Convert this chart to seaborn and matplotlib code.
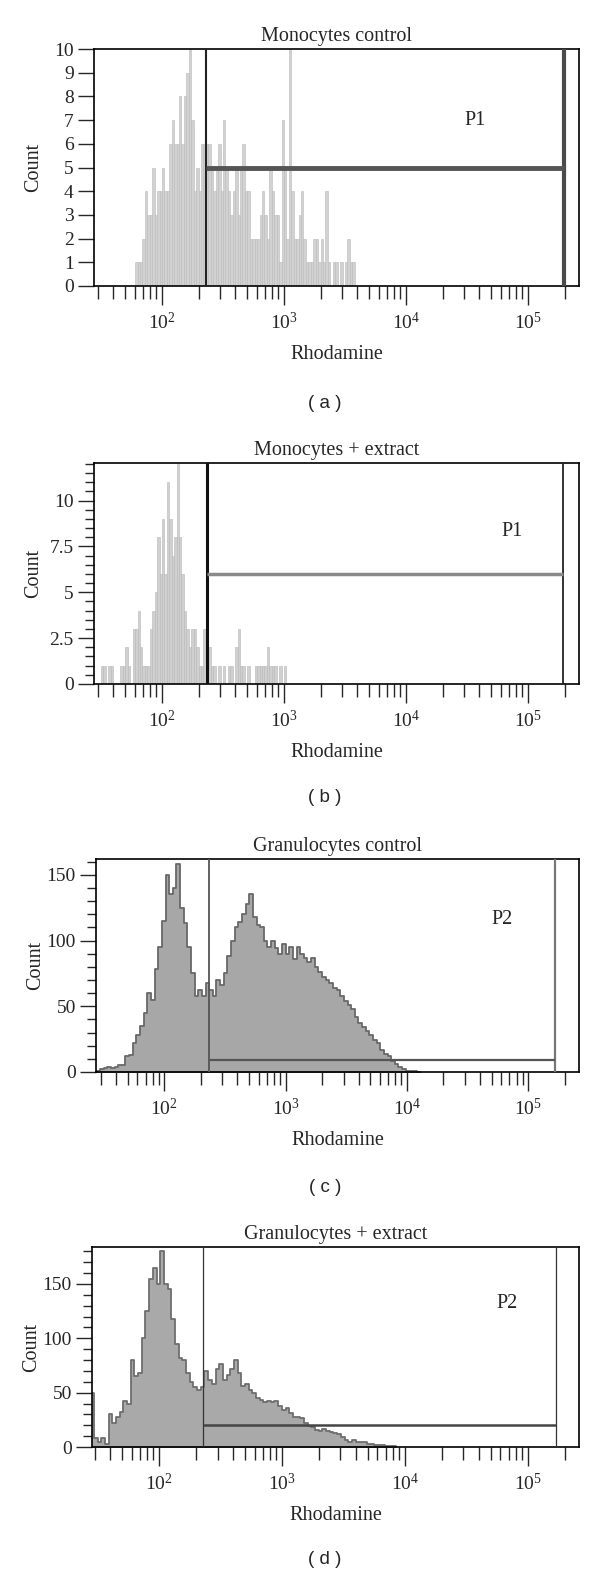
import numpy as np
import pandas as pd
import matplotlib
matplotlib.use("Agg")
import matplotlib.pyplot as plt
import matplotlib.ticker as mticker
import seaborn as sns

sns.set_style("ticks")
plt.rcParams["font.family"] = ["Liberation Serif", "DejaVu Serif"]
plt.rcParams["mathtext.fontset"] = "stix"

# ---- values ------------------------------------------------------------
titles = ["Monocytes control", "Monocytes + extract",
          "Granulocytes control", "Granulocytes + extract"]
letters = ["( a )", "( b )", "( c )", "( d )"]
gate_names = ["P1", "P1", "P2", "P2"]

# histogram bins are equal steps in log10(Rhodamine): (first edge, step)
bin_start = [1.78, 1.44, 1.44, 1.44]
bin_step = [0.02, 0.02, 0.03, 0.03]

mono_ctrl = [1, 1, 1, 2, 4, 3, 3, 5, 3, 4,
             4, 5, 4, 4, 6, 7, 6, 6, 8, 6,
             8, 9, 10, 7, 4, 5, 4, 6, 6, 6,
             6, 5, 4, 5, 6, 4, 7, 5, 4, 3,
             4, 5, 3, 5, 6, 4, 4, 2, 2, 2,
             2, 3, 4, 3, 2, 5, 4, 3, 3, 1,
             7, 5, 2, 10, 4, 2, 2, 3, 4, 2,
             1, 1, 1, 2, 2, 1, 2, 1, 4, 1,
             0, 1, 1, 0, 1, 0, 1, 2, 1, 1]
mono_ext = [0, 0, 0, 1, 1, 0, 1, 1, 0, 0,
            0, 1, 1, 2, 1, 0, 3, 3, 4, 2,
            1, 1, 1, 3, 4, 5, 8, 6, 9, 6,
            11, 9, 7, 8, 12, 8, 6, 4, 3, 2,
            3, 3, 2, 1, 1, 3, 1, 2, 1, 1,
            0, 1, 0, 1, 0, 1, 1, 0, 2, 3,
            1, 1, 0, 1, 0, 0, 1, 1, 1, 1,
            1, 2, 1, 1, 1, 0, 1, 0, 1, 0]
gran_ctrl = [1, 2, 3, 4, 3, 4, 5, 5, 12, 13,
             22, 28, 35, 45, 60, 55, 78, 95, 115, 150,
             135, 140, 158, 125, 113, 95, 75, 58, 62, 58,
             68, 62, 58, 70, 66, 75, 88, 100, 110, 114,
             120, 128, 135, 118, 112, 110, 100, 95, 100, 94,
             90, 97, 90, 95, 86, 95, 90, 87, 84, 87,
             80, 76, 72, 70, 68, 64, 62, 58, 54, 51,
             48, 42, 37, 34, 31, 28, 24, 22, 17, 14,
             12, 8, 6, 4, 2, 1, 1, 1, 0]
gran_ext = [50, 8, 5, 8, 3, 30, 22, 28, 32, 42,
            40, 80, 65, 68, 100, 125, 155, 165, 150, 180,
            150, 145, 118, 95, 82, 80, 68, 60, 55, 52,
            55, 70, 62, 58, 72, 76, 62, 66, 72, 80,
            68, 56, 58, 52, 50, 45, 43, 41, 42, 41,
            42, 38, 34, 36, 31, 28, 28, 27, 22, 19,
            18, 16, 15, 17, 15, 14, 13, 12, 9, 6,
            5, 6, 5, 5, 5, 3, 3, 2, 2, 2,
            1, 1, 1]
counts = [mono_ctrl, mono_ext, gran_ctrl, gran_ext]

# gates: left/right Rhodamine limits and height of the bar
gate_lo = [230, 232, 232, 229]
gate_hi = [1.97e5, 1.95e5, 1.66e5, 1.71e5]
gate_y = [5, 6, 9, 20.6]
label_x = [3.7e4, 7.4e4, 6.1e4, 6.8e4]
label_y = [7.0, 8.3, 116, 132]

y_max = [10, 12.05, 162, 184]
y_major = [[0, 1, 2, 3, 4, 5, 6, 7, 8, 9, 10], [0, 2.5, 5, 7.5, 10],
           [0, 50, 100, 150], [0, 50, 100, 150]]
y_minor = [None, 0.5, 10, 10]

# ---- styling ------------------------------------------------------------
W, H = 600, 1575
boxes = [(94, 49, 579, 286), (94, 463, 579, 684),
         (96, 859, 579, 1072), (92, 1247, 579, 1447)]
letter_y = [403, 797, 1187, 1560]
x_left = [1.443, 1.443, 1.437, 1.455]
x_right = 5.418
fills = ["#d2d2d2", "#d0d0d0", "#a7a7a7", "#a9a9a9"]
edges = ["#bababa", "#b8b8b8", "#686868", "#6e6e6e"]
gate_styles = [
    dict(lo=("#222222", 1.5), hi=("#4a4a4a", 3.0), h=("#555555", 3.5)),
    dict(lo=("#111111", 2.2), hi=("#222222", 1.3), h=("#8a8a8a", 2.5)),
    dict(lo=("#555555", 1.3), hi=("#777777", 1.6), h=("#555555", 1.6)),
    dict(lo=("#333333", 0.9), hi=("#333333", 0.9), h=("#454545", 1.8)),
]

fig = plt.figure(figsize=(W / 100, H / 100), dpi=100)

for k in range(4):
    l, t, r, b = boxes[k]
    ax = fig.add_axes([l / W, 1 - b / H, (r - l) / W, (b - t) / H])

    n = len(counts[k])
    centers = bin_start[k] + bin_step[k] * (np.arange(n) + 0.5)
    df = pd.DataFrame({"rhodamine": 10 ** centers, "count": counts[k]})
    brange = (bin_start[k], bin_start[k] + bin_step[k] * n)
    if k < 2:
        sns.histplot(df, x="rhodamine", weights="count",
                     binwidth=bin_step[k], binrange=brange,
                     log_scale=True, element="bars", fill=True,
                     color=fills[k], edgecolor=edges[k], linewidth=0.4,
                     alpha=1, ax=ax)
    else:
        sns.histplot(df, x="rhodamine", weights="count",
                     binwidth=bin_step[k], binrange=brange,
                     log_scale=True, element="step", fill=True,
                     color=fills[k], edgecolor=edges[k], linewidth=1.3,
                     alpha=1, ax=ax)

    gs = gate_styles[k]
    ax.axvline(gate_lo[k], color=gs["lo"][0], lw=gs["lo"][1], zorder=5)
    ax.axvline(gate_hi[k], color=gs["hi"][0], lw=gs["hi"][1], zorder=5)
    ax.hlines(gate_y[k], gate_lo[k], gate_hi[k], color=gs["h"][0],
              lw=gs["h"][1], zorder=5)
    ax.text(label_x[k], label_y[k], gate_names[k], ha="center", va="center",
            fontsize=14.5)

    ax.set_xscale("log")
    ax.set_xlim(10 ** x_left[k], 10 ** x_right)
    ax.set_ylim(0, y_max[k])
    ax.xaxis.set_major_locator(mticker.LogLocator(base=10))
    ax.xaxis.set_major_formatter(mticker.LogFormatterMathtext())
    ax.xaxis.set_minor_locator(mticker.LogLocator(base=10, subs=np.arange(2, 10)))
    ax.xaxis.set_minor_formatter(mticker.NullFormatter())
    ax.set_yticks(y_major[k])
    ax.yaxis.set_major_formatter(mticker.FuncFormatter(lambda v, p: f"{v:g}"))
    if y_minor[k]:
        ax.yaxis.set_minor_locator(mticker.MultipleLocator(y_minor[k]))
    else:
        ax.yaxis.set_minor_locator(mticker.NullLocator())

    ax.tick_params(axis="x", which="major", direction="out", length=13.5,
                   width=1, pad=5, labelsize=14)
    ax.tick_params(axis="x", which="minor", direction="out", length=9, width=1)
    ax.tick_params(axis="y", which="major", direction="out", length=11.5,
                   width=1, pad=3, labelsize=14)
    ax.tick_params(axis="y", which="minor", direction="out", length=6.5, width=1)
    for s in ax.spines.values():
        s.set_visible(True)
        s.set_color("black")
        s.set_linewidth(1.2)

    ax.set_title(titles[k], fontsize=14.5, pad=6)
    ax.set_xlabel("Rhodamine", fontsize=14.5, labelpad=9)
    ax.set_ylabel("Count", fontsize=14.5)
    ax.yaxis.set_label_coords(-0.105, 0.5)

    fig.text(325 / W, 1 - letter_y[k] / H, letters[k], ha="center",
             va="center", fontsize=13.5, family=["Liberation Sans", "DejaVu Sans"])

fig.savefig("out.png", dpi=100)
